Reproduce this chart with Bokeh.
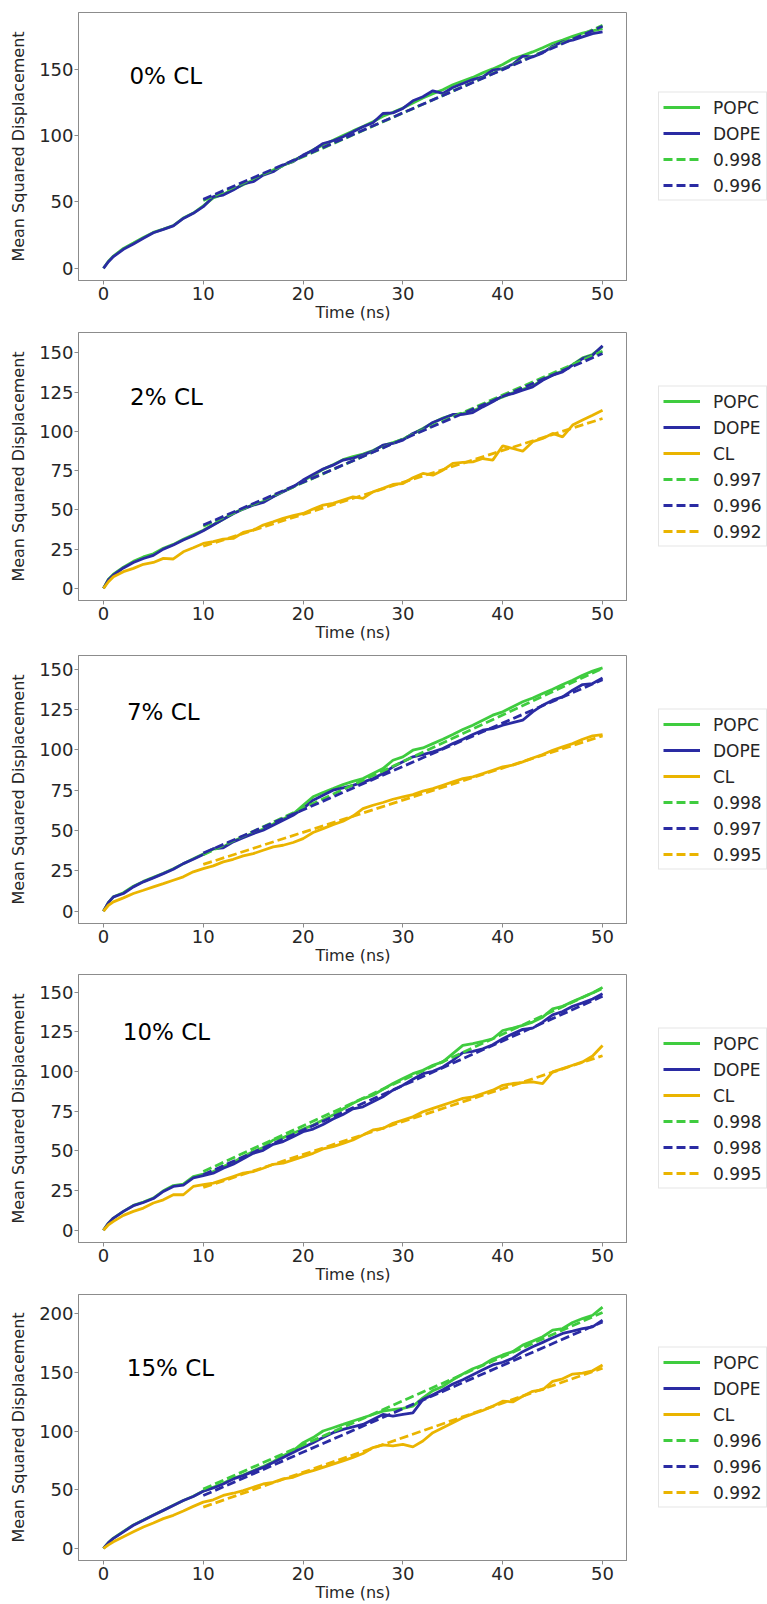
from bokeh.plotting import figure
from bokeh.models import Range1d, FixedTicker, Legend, LegendItem, Label
from bokeh.layouts import column, row
from bokeh.embed import file_html
from bokeh.resources import INLINE

# ---------------- data ----------------
T = [0, 0.5] + list(range(1, 51))
FIT_T = [10, 50]
X_TICKS = [0, 10, 20, 30, 40, 50]

# Panel 1: 0% CL
P1_POPC = [0, 5.3, 9.2, 15, 19, 23.2, 27, 29.5, 32.2, 37.8, 41.6, 47, 53, 55.8, 59.5, 63, 66.5,
           70.5, 74, 77.5, 81.2, 84.8, 89.2, 92.8, 96.5, 100, 103.5, 106.8, 110.4, 114.5, 117.5,
           120.8, 124.5, 128.3, 131.6, 134.5, 138.2, 141, 143.8, 147.2, 150.2, 153.5, 157.8, 160.2,
           163, 166.2, 169.5, 172, 174.8, 177.2, 178.8, 180.6]
P1_DOPE = [0, 5, 8.8, 14.3, 18.3, 22.6, 26.8, 29.3, 31.9, 37.6, 41.4, 46.4, 53.9, 55.2, 58.9, 63.5,
           65.2, 70.2, 72.7, 77.8, 80.3, 85.3, 89, 94, 96.1, 99.1, 102.8, 106.6, 109.6, 116.6, 117.1,
           120.4, 126.2, 129.2, 133.7, 131.7, 136.2, 139.2, 142.2, 144.2, 149.2, 150.5, 153.7, 159.8,
           159.3, 162.3, 167.3, 170.6, 171.8, 174.3, 176.8, 178.1]
P1_FIT_POPC = [51, 183]
P1_FIT_DOPE = [51.9, 182.3]

# Panel 2: 2% CL
P2_POPC = [0, 5.8, 9, 13.5, 17.2, 20, 22, 25.5, 28, 31.2, 34.2, 37, 40.5, 44, 47.8, 50.8, 53.3,
           55.2, 58.5, 61.8, 64.5, 68.5, 72, 75.8, 78.8, 82, 84, 85.5, 87.8, 91, 92.8, 95, 98.5,
           101.8, 105.5, 108.5, 110.5, 111.5, 113, 116, 119.5, 122, 124.5, 126.8, 129, 133, 136,
           138.5, 142.5, 146.8, 149, 154]
P2_DOPE = [0, 5.5, 8.5, 13, 16.5, 19, 21, 25, 27.6, 30.8, 33.5, 36.7, 40.3, 44, 47.5, 50.5, 53,
           54.7, 58.3, 61.5, 64.7, 69, 72.6, 76, 78.5, 81.7, 83, 85, 87.4, 91.2, 92.3, 94.4, 98.7,
           101.4, 105.7, 108.2, 110.8, 110.8, 112, 115.6, 118.8, 122.6, 124.1, 126.2, 128.4, 132.6,
           135.8, 137.9, 142.2, 146.4, 148.5, 154.5]
P2_CL = [0, 4.2, 7.4, 10.6, 12.7, 15.3, 16.5, 19.1, 18.7, 23.3, 25.9, 28.6, 29.7, 31.4, 31.8, 35.6,
         37.1, 40.3, 42.4, 44.6, 46.3, 47.7, 50.5, 53, 54.1, 56.2, 58.3, 57.3, 61.5, 63.7, 66.2, 66.8,
         70.4, 73.2, 72.1, 75.3, 79.6, 80.2, 80.6, 82.7, 81.7, 90.8, 89.1, 87.4, 93.4, 95.5, 98.7,
         96.5, 104, 107.2, 110.3, 113.5]
P2_FIT_POPC = [39.5, 151]
P2_FIT_DOPE = [40.3, 149.6]
P2_FIT_CL = [26.8, 108.2]

# Panel 3: 7% CL
P3_POPC = [0, 5.5, 9, 11.5, 15.5, 18.5, 21, 23.5, 26.3, 29.5, 32.5, 35.5, 38.5, 39.8, 43.5, 46,
           48.5, 51, 54, 57.2, 60.2, 65.7, 70.9, 73.6, 76, 78.5, 80.5, 82.2, 85.3, 88.4, 93.6, 95.7,
           99.8, 101.2, 103.9, 106.6, 109.5, 112.6, 115.3, 118.4, 121.5, 123.6, 126.7, 129.8, 132.2,
           134.9, 137.6, 140.5, 143.2, 146.3, 148.8, 150.8]
P3_DOPE = [0, 5.5, 8.9, 11, 15.1, 18.2, 20.7, 23.3, 26, 29.5, 32.2, 35.1, 38.8, 39.3, 43, 45.5,
           48.1, 50.2, 53.3, 56.4, 59.5, 63.6, 68.8, 71.9, 75, 76.5, 78, 80, 82.2, 85.3, 89.5, 92.6,
           95.7, 97.1, 98.8, 100.8, 103.9, 106.6, 109.5, 112.2, 113.2, 115.3, 116.9, 118.4, 123.6,
           127.7, 130.8, 132.9, 137, 140.5, 141.1, 144.6]
P3_CL = [0, 3.7, 5.8, 8.3, 11, 13, 15.1, 17.1, 19.2, 21.3, 24.4, 26.4, 28.1, 30.6, 32.2, 34.3,
         35.7, 37.8, 39.9, 40.9, 42.6, 45, 48.8, 51.2, 53.7, 55.8, 59, 63.6, 65.7, 67.4, 69.4, 70.9,
         72.3, 74.4, 76, 78.1, 80.2, 82.2, 83.3, 85.3, 87.4, 89.5, 90.5, 92.6, 95, 97.1, 99.8, 101.9,
         103.9, 106.6, 108.7, 109.5]
P3_FIT_POPC = [35, 150.5]
P3_FIT_DOPE = [36, 143.5]
P3_FIT_CL = [29, 108.7]

# Panel 4: 10% CL
P4_POPC = [0, 4.5, 7.7, 11.9, 15.7, 17.8, 20.3, 24.9, 28.2, 29.1, 33.9, 35.4, 37, 40.2, 42.9, 46.4,
           49.6, 52.1, 56.9, 58.4, 61.1, 63.8, 66.3, 69.5, 72.6, 76.4, 80, 83, 85.1, 88.9, 92.5, 95.6,
           98.7, 100.8, 104, 106.1, 111.3, 116.5, 117.6, 119, 120.7, 125.9, 127.4, 129.1, 131.2,
           134.3, 139.5, 141.2, 144.1, 146.9, 149.6, 153.1]
P4_DOPE = [0, 4.5, 7.7, 11.9, 15.5, 17.5, 20, 24.5, 27.6, 28.5, 33, 34.5, 36, 39.1, 41.6, 45, 48.5,
           50.4, 54.2, 55.9, 59, 62.1, 63.8, 66.7, 70.1, 73, 76.5, 77.8, 81, 84.1, 88.3, 91.4, 95.2,
           98.7, 100.2, 102.9, 107.1, 111.9, 112.8, 114.4, 116.9, 120.7, 123.8, 126.6, 127.4, 131.2,
           135.8, 137.9, 141.2, 143.3, 145.8, 149]
P4_CL = [0, 3.5, 5.6, 9.4, 11.9, 14, 17.2, 19.2, 22.4, 22.4, 27.6, 28.7, 29.7, 31.8, 33.9, 36, 37,
         39.1, 41.6, 42.3, 44.4, 46.4, 48.5, 51.3, 52.7, 54.8, 56.9, 60, 63.2, 64.2, 67.4, 69.5, 71.5,
         74.7, 76.8, 78.9, 81, 83.1, 84.1, 86.2, 88.3, 91.4, 92.5, 93.1, 93.5, 92.5, 99.8, 101.9, 104,
         106.1, 109.8, 116.5]
P4_FIT_POPC = [37, 152.5]
P4_FIT_DOPE = [35, 147.5]
P4_FIT_CL = [27, 110]

# Panel 5: 15% CL
P5_POPC = [0, 5, 8.8, 14.5, 20, 24.2, 28.5, 32.6, 36.8, 40.8, 44.5, 49, 52, 55.5, 59.8, 62.5, 66.2,
           69.8, 73.8, 78.9, 83.1, 90.1, 94.4, 100, 102.8, 105.6, 108.5, 111.3, 114.1, 116.9, 118.3,
           119.2, 121.1, 128.2, 134.4, 138, 143.7, 148.5, 153, 156.3, 161.4, 164.8, 167.6, 173.2,
           176.6, 180.3, 185.9, 187.3, 192.4, 195.8, 198.6, 205.6]
P5_DOPE = [0, 5, 8.5, 14.1, 19.7, 23.9, 28.2, 32.4, 36.6, 40.8, 44.2, 48.7, 51.5, 54.9, 59.2, 62,
           65.6, 69, 73.2, 77.5, 81.7, 85.9, 90.1, 94.4, 98.6, 101.4, 103.5, 105.6, 109.9, 114.1,
           112.7, 114.1, 115.5, 126.8, 131, 135.2, 140, 143.7, 147.9, 152.1, 156.3, 158.6, 162, 167.6,
           171.8, 175.5, 179.4, 183.1, 185.1, 187.3, 188.7, 194.4]
P5_CL = [0, 3, 5.6, 9.9, 14.1, 18.3, 21.7, 25.4, 28.2, 31.8, 35.8, 39.4, 41.4, 45.1, 47, 49.3, 52.1,
         54.9, 56.3, 59.2, 60.6, 63.9, 66.2, 69, 71.8, 74.6, 77.5, 80.8, 85.9, 88.2, 87.3, 88.7, 86.5,
         91.5, 98.6, 102.8, 107, 111.3, 114.6, 117.5, 121.1, 125.4, 124.8, 129.6, 133.8, 135.2, 142.3,
         144.5, 148.5, 149.3, 151.3, 156.3]
P5_FIT_POPC = [50.5, 201]
P5_FIT_DOPE = [45, 193]
P5_FIT_CL = [35.2, 153.5]

TITLES = ["0% CL", "2% CL", "7% CL", "10% CL", "15% CL"]
FIT_LABELS = [["0.998", "0.996"],
              ["0.997", "0.996", "0.992"],
              ["0.998", "0.997", "0.995"],
              ["0.998", "0.998", "0.995"],
              ["0.996", "0.996", "0.992"]]
Y_TICKS = [[0, 50, 100, 150],
           [0, 25, 50, 75, 100, 125, 150],
           [0, 25, 50, 75, 100, 125, 150],
           [0, 25, 50, 75, 100, 125, 150],
           [0, 50, 100, 150, 200]]

SERIES = [
    [("POPC", P1_POPC), ("DOPE", P1_DOPE)],
    [("POPC", P2_POPC), ("DOPE", P2_DOPE), ("CL", P2_CL)],
    [("POPC", P3_POPC), ("DOPE", P3_DOPE), ("CL", P3_CL)],
    [("POPC", P4_POPC), ("DOPE", P4_DOPE), ("CL", P4_CL)],
    [("POPC", P5_POPC), ("DOPE", P5_DOPE), ("CL", P5_CL)],
]
FITS = [
    [P1_FIT_POPC, P1_FIT_DOPE],
    [P2_FIT_POPC, P2_FIT_DOPE, P2_FIT_CL],
    [P3_FIT_POPC, P3_FIT_DOPE, P3_FIT_CL],
    [P4_FIT_POPC, P4_FIT_DOPE, P4_FIT_CL],
    [P5_FIT_POPC, P5_FIT_DOPE, P5_FIT_CL],
]

# ---------------- styling / layout ----------------
COLORS = {"POPC": "#3fcc3f", "DOPE": "#2a2ba3", "CL": "#eab400"}
LW = 2.8
DASH = "9 4"
NAN = [float("nan")]
Y_RANGES = [(-9.2, 192.7), (-7.75, 163.0), (-7.6, 158.5), (-7.7, 161.2), (-10.3, 216.3)]
LABEL_POS = [(2.6, 145), (2.67, 122), (2.35, 123.6), (1.94, 125), (2.34, 154)]
TOPS = [12, 6, 9, 5, 6]
BOTTOMS = [46, 46, 46, 46, 42]
FRAME_H = 268
PLOT_W = 627
LEG_W = 140
FONT = "DejaVu Sans"
TXT = "#262626"
SPINE = "#8c8c8c"

rows = []
for i in range(5):
    h = TOPS[i] + FRAME_H + BOTTOMS[i]
    p = figure(width=PLOT_W, height=h, x_range=Range1d(-2.5, 52.5), y_range=Range1d(*Y_RANGES[i]),
               output_backend="svg", toolbar_location=None,
               min_border_left=78, min_border_right=0,
               min_border_top=TOPS[i], min_border_bottom=BOTTOMS[i])
    p.xgrid.visible = False
    p.ygrid.visible = False
    p.outline_line_color = SPINE
    p.outline_line_width = 1
    p.background_fill_color = "white"
    p.border_fill_color = "white"

    # legend holder: a small figure without axes to the right of the plot
    lf = figure(width=LEG_W, height=h, x_range=Range1d(0, 1), y_range=Range1d(0, 1),
                output_backend="svg", toolbar_location=None,
                x_axis_location=None, y_axis_location=None,
                min_border_left=0, min_border_right=0,
                min_border_top=TOPS[i], min_border_bottom=BOTTOMS[i])
    lf.xgrid.visible = False
    lf.ygrid.visible = False
    lf.outline_line_color = None
    lf.background_fill_color = "white"
    lf.border_fill_color = "white"

    items = []
    names = [s[0] for s in SERIES[i]]
    for name, ys in SERIES[i]:
        p.line(T, ys, line_color=COLORS[name], line_width=LW)
        r = lf.line(NAN, NAN, line_color=COLORS[name], line_width=LW)
        items.append(LegendItem(label=name, renderers=[r]))
    for name, fy, lab in zip(names, FITS[i], FIT_LABELS[i]):
        p.line(FIT_T, fy, line_color=COLORS[name], line_width=LW, line_dash=DASH)
        r = lf.line(NAN, NAN, line_color=COLORS[name], line_width=LW, line_dash=DASH)
        items.append(LegendItem(label=lab, renderers=[r]))

    legend = Legend(items=items, location="center_left",
                    label_text_font=FONT, label_text_font_size="17px", label_text_color=TXT,
                    glyph_width=37, glyph_height=21, label_height=21, label_standoff=13,
                    spacing=5, padding=4, margin=31,
                    border_line_color="#cccccc", border_line_width=1,
                    background_fill_color="white", background_fill_alpha=1.0)
    lf.add_layout(legend)

    lx, ly = LABEL_POS[i]
    p.add_layout(Label(x=lx, y=ly, text=TITLES[i], text_font=FONT, text_font_size="23px",
                       text_color="black", text_baseline="alphabetic", text_align="left"))

    for ax in (p.xaxis[0], p.yaxis[0]):
        ax.major_label_text_font = FONT
        ax.major_label_text_font_size = "18px"
        ax.major_label_text_color = TXT
        ax.axis_label_text_font = FONT
        ax.axis_label_text_font_size = "16px"
        ax.axis_label_text_font_style = "normal"
        ax.axis_label_text_color = TXT
        ax.major_tick_in = 0
        ax.major_tick_out = 4
        ax.minor_tick_in = 0
        ax.minor_tick_out = 0
        ax.minor_tick_line_color = None
        ax.axis_line_color = SPINE
        ax.major_tick_line_color = SPINE
    p.xaxis[0].ticker = FixedTicker(ticks=X_TICKS)
    p.yaxis[0].ticker = FixedTicker(ticks=Y_TICKS[i])
    p.xaxis[0].axis_label = "Time (ns)"
    p.xaxis[0].major_label_standoff = 2
    p.xaxis[0].axis_label_standoff = 0
    p.yaxis[0].axis_label = "Mean Squared Displacement"
    p.yaxis[0].major_label_standoff = 1
    p.yaxis[0].axis_label_standoff = 8
    rows.append(row(p, lf, spacing=0))

layout = column(*rows, spacing=0)
open("out.html", "w").write(file_html(layout, INLINE))
